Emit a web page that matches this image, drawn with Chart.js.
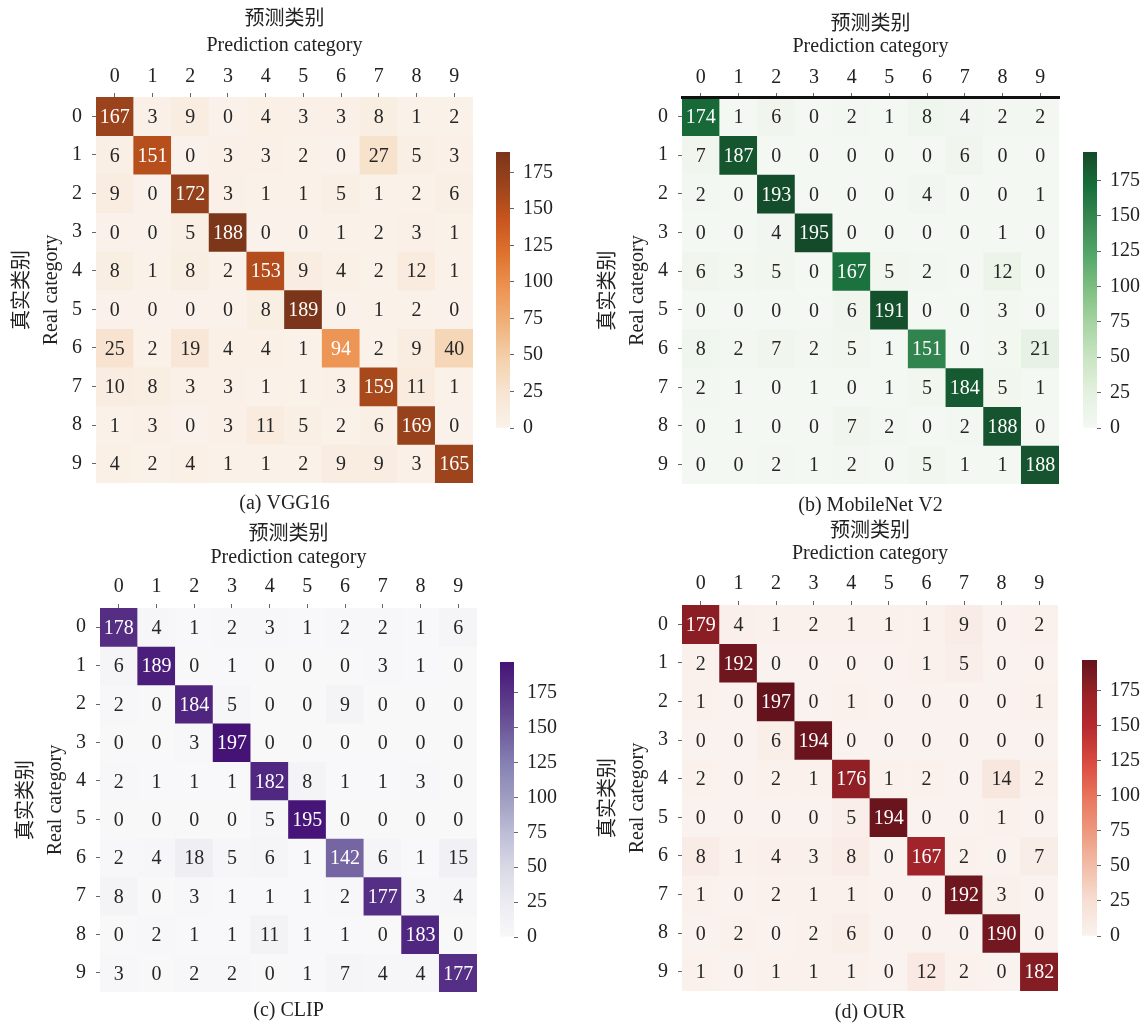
<!DOCTYPE html>
<html>
<head>
<meta charset="utf-8">
<script src="https://cdn.jsdelivr.net/npm/chart.js@4.4.0/dist/chart.umd.min.js"></script>
<style>
  body { margin: 0; background: #fff; }
  #wrap { position: relative; width: 1145px; height: 1024px; overflow: hidden; }
  #wrap canvas { position: absolute; }
</style>
</head>
<body>
<div id="wrap"></div>
<script>
// class labels (both axes) and colorbar ticks
const CLASSES = ["0", "1", "2", "3", "4", "5", "6", "7", "8", "9"];
const CBAR_TICKS = [0, 25, 50, 75, 100, 125, 150, 175];

// confusion matrices, rows = real category, cols = predicted
const VGG16 = [
  [167, 3, 9, 0, 4, 3, 3, 8, 1, 2],
  [6, 151, 0, 3, 3, 2, 0, 27, 5, 3],
  [9, 0, 172, 3, 1, 1, 5, 1, 2, 6],
  [0, 0, 5, 188, 0, 0, 1, 2, 3, 1],
  [8, 1, 8, 2, 153, 9, 4, 2, 12, 1],
  [0, 0, 0, 0, 8, 189, 0, 1, 2, 0],
  [25, 2, 19, 4, 4, 1, 94, 2, 9, 40],
  [10, 8, 3, 3, 1, 1, 3, 159, 11, 1],
  [1, 3, 0, 3, 11, 5, 2, 6, 169, 0],
  [4, 2, 4, 1, 1, 2, 9, 9, 3, 165],
];
const MOBILENET = [
  [174, 1, 6, 0, 2, 1, 8, 4, 2, 2],
  [7, 187, 0, 0, 0, 0, 0, 6, 0, 0],
  [2, 0, 193, 0, 0, 0, 4, 0, 0, 1],
  [0, 0, 4, 195, 0, 0, 0, 0, 1, 0],
  [6, 3, 5, 0, 167, 5, 2, 0, 12, 0],
  [0, 0, 0, 0, 6, 191, 0, 0, 3, 0],
  [8, 2, 7, 2, 5, 1, 151, 0, 3, 21],
  [2, 1, 0, 1, 0, 1, 5, 184, 5, 1],
  [0, 1, 0, 0, 7, 2, 0, 2, 188, 0],
  [0, 0, 2, 1, 2, 0, 5, 1, 1, 188],
];
const CLIP = [
  [178, 4, 1, 2, 3, 1, 2, 2, 1, 6],
  [6, 189, 0, 1, 0, 0, 0, 3, 1, 0],
  [2, 0, 184, 5, 0, 0, 9, 0, 0, 0],
  [0, 0, 3, 197, 0, 0, 0, 0, 0, 0],
  [2, 1, 1, 1, 182, 8, 1, 1, 3, 0],
  [0, 0, 0, 0, 5, 195, 0, 0, 0, 0],
  [2, 4, 18, 5, 6, 1, 142, 6, 1, 15],
  [8, 0, 3, 1, 1, 1, 2, 177, 3, 4],
  [0, 2, 1, 1, 11, 1, 1, 0, 183, 0],
  [3, 0, 2, 2, 0, 1, 7, 4, 4, 177],
];
const OUR = [
  [179, 4, 1, 2, 1, 1, 1, 9, 0, 2],
  [2, 192, 0, 0, 0, 0, 1, 5, 0, 0],
  [1, 0, 197, 0, 1, 0, 0, 0, 0, 1],
  [0, 0, 6, 194, 0, 0, 0, 0, 0, 0],
  [2, 0, 2, 1, 176, 1, 2, 0, 14, 2],
  [0, 0, 0, 0, 5, 194, 0, 0, 1, 0],
  [8, 1, 4, 3, 8, 0, 167, 2, 0, 7],
  [1, 0, 2, 1, 1, 0, 0, 192, 3, 0],
  [0, 2, 0, 2, 6, 0, 0, 0, 190, 0],
  [1, 0, 1, 1, 1, 0, 12, 2, 0, 182],
];

// matplotlib sequential maps
const ORANGES = ["#fff5eb", "#fee6ce", "#fdd0a2", "#fdae6b", "#fd8d3c", "#f16913", "#d94801", "#a63603", "#7f2704"];
const GREENS = ["#f7fcf5", "#e5f5e0", "#c7e9c0", "#a1d99b", "#74c476", "#41ab5d", "#238b45", "#006d2c", "#00441b"];
const PURPLES = ["#fcfbfd", "#efedf5", "#dadaeb", "#bcbddc", "#9e9ac8", "#807dba", "#6a51a3", "#54278f", "#3f007d"];
const REDS = ["#fff5f0", "#fee0d2", "#fcbba1", "#fc9272", "#fb6a4a", "#ef3b2c", "#cb181d", "#a50f15", "#67000d"];

const X_TITLE = ["预测类别", "Prediction category"];
const Y_TITLE = ["真实类别", "Real category"];

const FONT = "'Liberation Serif', 'Times New Roman', 'Noto Sans CJK SC', serif";
const TXT = "#222";
const FS = 20;
// the printed figure looks a bit washed out: less saturation, lifted blacks
const SAT = 0.85;
const LIFT = 14;
const GAIN = 0.93;
const wrap = document.getElementById("wrap");

function hexToRgb(h) {
  return [parseInt(h.slice(1, 3), 16), parseInt(h.slice(3, 5), 16), parseInt(h.slice(5, 7), 16)];
}

function soften(c) {
  const l = 0.299 * c[0] + 0.587 * c[1] + 0.114 * c[2];
  return c.map(v => LIFT + (l + (v - l) * SAT) * GAIN);
}

function cmap(stops, t) {
  t = Math.max(0, Math.min(1, t));
  const n = stops.length - 1;
  const p = t * n;
  const i = Math.min(Math.floor(p), n - 1);
  const f = p - i;
  const a = hexToRgb(stops[i]);
  const b = hexToRgb(stops[i + 1]);
  return soften([0, 1, 2].map(k => a[k] + (b[k] - a[k]) * f));
}

function rgbStr(c) {
  return "rgb(" + c.map(Math.round).join(",") + ")";
}

// seaborn style: dark text on light cells, white on dark
function textColor(c) {
  const lin = c.map(v => {
    v = v / 255;
    return v <= 0.03928 ? v / 12.92 : Math.pow((v + 0.055) / 1.055, 2.4);
  });
  const lum = 0.2126 * lin[0] + 0.7152 * lin[1] + 0.0722 * lin[2];
  return lum > 0.408 ? "#262626" : "#ffffff";
}

function addCanvas(left, top, w, h) {
  const c = document.createElement("canvas");
  c.width = w;
  c.height = h;
  c.style.left = left + "px";
  c.style.top = top + "px";
  c.style.width = w + "px";
  c.style.height = h + "px";
  wrap.appendChild(c);
  return c;
}

function drawHeatmap(p) {
  const vmax = Math.max(...p.data.flat());
  const X0 = p.L - 96;
  const W = p.R - X0 + 2;
  const H = p.capY + 16 - p.Y0;
  const canvas = addCanvas(X0, p.Y0, W, H);

  const datasets = CLASSES.map((row, i) => ({
    label: row,
    data: CLASSES.map(() => [i - 0.5, i + 0.5]),
    backgroundColor: p.data[i].map(v => rgbStr(cmap(p.stops, v / vmax))),
    grouped: false,
    barPercentage: 1,
    categoryPercentage: 1,
    borderWidth: 0,
  }));

  const annotate = {
    id: "annotate",
    afterDatasetsDraw(chart) {
      const ctx = chart.ctx;
      ctx.save();
      ctx.font = FS + "px " + FONT;
      ctx.textAlign = "center";
      ctx.textBaseline = "middle";
      chart.data.datasets.forEach((ds, i) => {
        chart.getDatasetMeta(i).data.forEach((el, j) => {
          const v = p.data[i][j];
          ctx.fillStyle = textColor(cmap(p.stops, v / vmax));
          ctx.fillText(String(v), el.x, (el.y + el.base) / 2 + 1.5);
        });
      });
      ctx.restore();
    },
  };

  new Chart(canvas, {
    type: "bar",
    data: { labels: CLASSES, datasets: datasets },
    options: {
      responsive: false,
      animation: false,
      layout: { padding: { left: 0, right: 2, top: 0, bottom: 0 } },
      scales: {
        x: {
          type: "category",
          position: "top",
          offset: true,
          grid: { offset: false, drawOnChartArea: false, drawTicks: true, tickLength: 4, color: "#666" },
          border: { display: !!p.topLine, color: "#111", width: 3, z: 1 },
          ticks: { font: { family: FONT, size: FS }, color: TXT, padding: p.T - p.tickY - 16, maxRotation: 0 },
          title: {
            display: true,
            text: X_TITLE,
            color: TXT,
            font: { family: FONT, size: FS, lineHeight: p.gap / FS },
            padding: { top: p.title1Y - p.Y0 - p.gap / 2, bottom: 0 },
          },
          afterFit: s => { s.height = p.T - p.Y0; },
        },
        y: {
          type: "linear",
          position: "left",
          reverse: true,
          min: -0.5,
          max: 9.5,
          afterBuildTicks: s => { s.ticks = CLASSES.map((c, i) => ({ value: i })); },
          grid: { drawOnChartArea: false, drawTicks: true, tickLength: 4, color: "#666" },
          border: { display: false },
          ticks: { font: { family: FONT, size: FS }, color: TXT, padding: 10, callback: v => CLASSES[v] },
          title: {
            display: true,
            text: Y_TITLE,
            color: TXT,
            font: { family: FONT, size: FS, lineHeight: 29 / FS },
            padding: { top: 8, bottom: 0 },
          },
          afterFit: s => { s.width = 96; },
        },
      },
      plugins: {
        legend: { display: false },
        tooltip: { enabled: false },
        title: {
          display: true,
          position: "bottom",
          fullSize: false,
          text: p.caption,
          color: TXT,
          font: { family: FONT, size: FS, weight: "normal", lineHeight: 1.2 },
          padding: { top: p.capY - p.B - 12, bottom: 4 },
        },
      },
    },
    plugins: [annotate],
  });
}

function drawColorbar(p) {
  const vmax = Math.max(...p.data.flat());
  const W = 2 + (p.x1 - p.x0) + 64;
  const H = (p.y1 - p.y0) + 28;
  const canvas = addCanvas(p.x0 - 2, p.y0 - 14, W, H);
  const stops = p.stops.map(s => rgbStr(soften(hexToRgb(s))));

  new Chart(canvas, {
    type: "bar",
    data: {
      labels: [""],
      datasets: [{
        data: [[0, vmax]],
        barPercentage: 1,
        categoryPercentage: 1,
        borderWidth: 0,
        backgroundColor: ctx => {
          const chart = ctx.chart;
          if (!chart.chartArea) return stops[0];
          const ys = chart.scales.y;
          const g = chart.ctx.createLinearGradient(0, ys.getPixelForValue(0), 0, ys.getPixelForValue(vmax));
          stops.forEach((c, k) => g.addColorStop(k / (stops.length - 1), c));
          return g;
        },
      }],
    },
    options: {
      responsive: false,
      animation: false,
      layout: { padding: { left: 2, right: 0, top: 14, bottom: 14 } },
      scales: {
        x: { display: false, offset: true },
        y: {
          position: "right",
          min: 0,
          max: vmax,
          afterBuildTicks: s => { s.ticks = CBAR_TICKS.map(v => ({ value: v })); },
          grid: { drawOnChartArea: false, drawTicks: true, tickLength: 4, color: "#666" },
          border: { display: false },
          ticks: { font: { family: FONT, size: FS }, color: TXT, padding: 9 },
          afterFit: s => { s.width = 64; },
        },
      },
      plugins: { legend: { display: false }, tooltip: { enabled: false } },
    },
  });
}

const panels = [
  { data: VGG16, stops: ORANGES, caption: "(a) VGG16", L: 96, T: 97, R: 473, B: 483, Y0: 0, title1Y: 19.5, gap: 26.5, tickY: 77, capY: 504, topLine: false,
    cb: { x0: 496, y0: 145, x1: 510, y1: 435 } },
  { data: MOBILENET, stops: GREENS, caption: "(b) MobileNet V2", L: 682, T: 97, R: 1059, B: 484, Y0: 0, title1Y: 25, gap: 22, tickY: 78, capY: 506, topLine: true,
    cb: { x0: 1083, y0: 145, x1: 1097, y1: 435 } },
  { data: CLIP, stops: PURPLES, caption: "(c) CLIP", L: 100, T: 608, R: 477, B: 992, Y0: 510, title1Y: 535, gap: 23, tickY: 587, capY: 1011, topLine: false,
    cb: { x0: 500, y0: 655, x1: 514, y1: 944 } },
  { data: OUR, stops: REDS, caption: "(d) OUR", L: 682, T: 605, R: 1058, B: 991, Y0: 510, title1Y: 531.5, gap: 22.5, tickY: 584, capY: 1013, topLine: false,
    cb: { x0: 1082, y0: 653, x1: 1097, y1: 943 } },
];

panels.forEach(p => {
  drawHeatmap(p);
  drawColorbar(Object.assign({ data: p.data, stops: p.stops }, p.cb));
});
</script>
</body>
</html>
